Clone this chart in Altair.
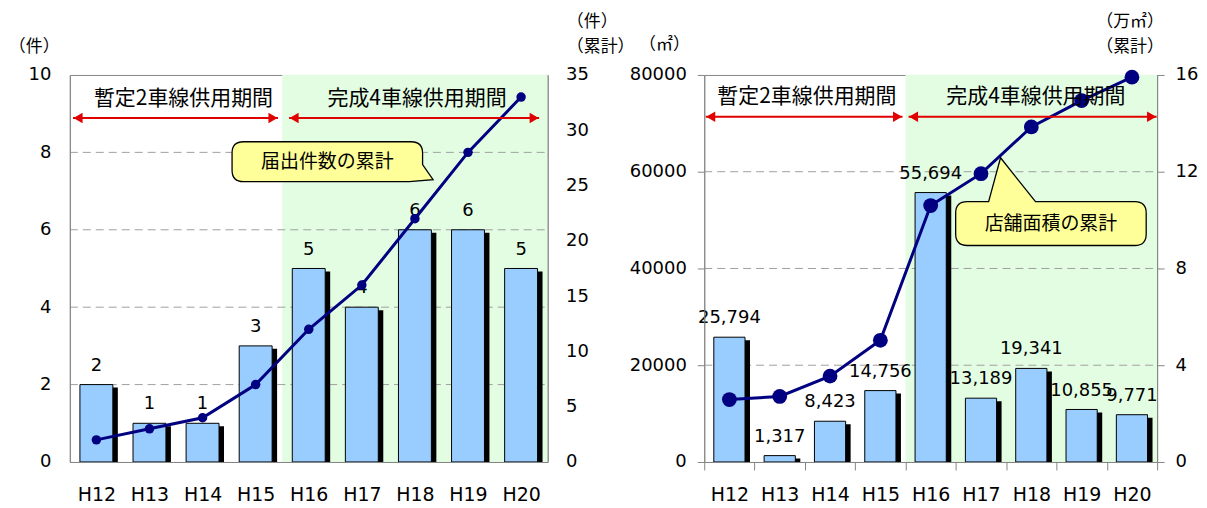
import json
import altair as alt
import pandas as pd

# ---------------- data ----------------
cats = ["H12", "H13", "H14", "H15", "H16", "H17", "H18", "H19", "H20"]
counts = [2, 1, 1, 3, 5, 4, 6, 6, 5]                 # 届出件数 (件)
counts_cum = [2, 3, 4, 7, 12, 16, 22, 28, 33]       # 累計 (件)
areas = [25794, 1317, 8423, 14756, 55694, 13189, 19341, 10855, 9771]   # 店舗面積 (㎡)
areas_cum = [2.58, 2.71, 3.55, 5.03, 10.60, 11.92, 13.85, 14.94, 15.91]  # 累計 (万㎡)

left_ticks = [0, 2, 4, 6, 8, 10]
left_cum_ticks = [0, 5, 10, 15, 20, 25, 30, 35]
left_grid = [2, 4, 6, 8]
right_ticks = [0, 20000, 40000, 60000, 80000]
right_cum_ticks = [0, 4, 8, 12, 16]
right_grid = [20000, 40000, 60000]

period_names = ["暫定2車線供用期間", "完成4車線供用期間"]
later_period = [3.5, 8.5]          # H16 .. H20 (green background)

left_period_x = [1.64, 6.04]
left_period_y = 9.38
left_arrow_start = [-0.44, 3.63]
left_arrow_end = [3.42, 8.34]
left_arrow_y = 8.89

right_period_x = [1.54, 6.09]
right_period_y = 75460
right_arrow_start = [-0.47, 3.56]
right_arrow_end = [3.44, 8.49]
right_arrow_y = 71340

left_callout = ["届出件数の累計"]
left_callout_x = [4.35]
left_callout_y = [7.76]
right_callout = ["店舗面積の累計"]
right_callout_x = [6.39]
right_callout_y = [49280]

# unit captions (placed in the data units of each chart's left axis)
left_units = ["（件）", "（件）", "（累計）"]
left_units_x = [-1.17, 8.86, 8.86]
left_units_y = [10.72, 11.37, 10.72]
left_units_align = ["center", "left", "left"]
right_units = ["（㎡）", "（万㎡）", "（累計）"]
right_units_x = [-1.29, 7.29, 7.29]
right_units_y = [86190, 90930, 85770]
right_units_align = ["center", "left", "left"]

# ---------------- styles ----------------
FONT_NUM = "DejaVu Sans"
FONT_JP = "Noto Sans CJK JP"
GRAY = "#868686"
GRID = "#a0a0a0"
GREEN = "#E3FDE3"
NAVY = "#000080"
RED = "#E00000"
BLUE = "#99CCFF"
YELLOW = "#FFFF99"
LEFT_W, RIGHT_W, H = 479, 454, 388

CALLOUT_LEFT_PATH = ("M-0.88,-0.209 L0.88,-0.209 Q1,-0.209 1,-0.089 L1,0.03 L1.11,0.19 "
                     "L0.86,0.209 L-0.88,0.209 Q-1,0.209 -1,0.089 L-1,-0.089 Q-1,-0.209 -0.88,-0.209 Z")
CALLOUT_RIGHT_PATH = ("M-0.88,-0.23 L-0.654,-0.23 L-0.529,-0.691 L-0.162,-0.23 L0.88,-0.23 "
                      "Q1,-0.23 1,-0.11 L1,0.11 Q1,0.23 0.88,0.23 L-0.88,0.23 Q-1,0.23 -1,0.11 "
                      "L-1,-0.11 Q-1,-0.23 -0.88,-0.23 Z")
CALLOUT_SIZE = 191 ** 2

xscale = alt.Scale(domain=[-0.5, len(cats) - 0.5], nice=False, zero=False)


def make_x_axis(width, tick_size, pad):
    kw = dict(ticks=False) if tick_size == 0 else dict(ticks=True, tickSize=tick_size, tickColor=GRAY)
    return alt.Axis(values=[k - 0.5 for k in range(len(cats) + 1)],
                    labelExpr=f"{json.dumps(cats)}[datum.value + 0.5] || ''",
                    labelOffset=width / len(cats) / 2, labelFlush=False, labelOverlap=False,
                    labelFont=FONT_NUM, labelFontSize=19, labelColor="black",
                    labelPadding=pad, domainColor=GRAY, grid=False, title=None, zindex=1, **kw)


def build(values, cum, w, xaxis, ydomain, yticks, yaxis_kw, ydomain2, yticks2, y2axis_kw,
          grid_vals, label_fmt, point_size, period_x, period_y, arrow_s, arrow_e, arrow_y,
          callout_text, callout_x, callout_y, callout_path, units, units_x, units_y, units_align):
    X = lambda f: alt.X(f, type="quantitative", scale=xscale, axis=xaxis)
    ys = alt.Scale(domain=ydomain, nice=False, zero=True)
    yax = alt.Axis(values=yticks, labelFont=FONT_NUM, labelFontSize=18, labelColor="black",
                   domainColor=GRAY, grid=False, zindex=1, title=None, **yaxis_kw)
    Y = lambda f: alt.Y(f, type="quantitative", scale=ys, axis=yax)
    ys2 = alt.Scale(domain=ydomain2, nice=False, zero=True)
    y2ax = alt.Axis(values=yticks2, orient="right", labelFont=FONT_NUM, labelFontSize=18,
                    labelColor="black", domainColor=GRAY, grid=False, zindex=1, title=None,
                    **y2axis_kw)
    Y2 = lambda f: alt.Y(f, type="quantitative", scale=ys2, axis=y2ax)
    Ya = lambda f: alt.Y(f, type="quantitative", scale=ys, axis=None)

    df = pd.DataFrame({"i": list(range(len(cats))), "v": values, "cum": cum})
    base = alt.Chart(df).transform_calculate(x0="datum.i - 0.31", x1="datum.i + 0.31", z="0")

    bg = alt.Chart(pd.DataFrame({"a": [later_period[0]], "b": [later_period[1]],
                                 "lo": [ydomain[0]], "hi": [ydomain[1]]})).mark_rect(
        color=GREEN).encode(x=X("a"), x2="b", y=Y("lo"), y2="hi")
    grid = alt.Chart(pd.DataFrame({"g": grid_vals, "a": xscale.domain[0], "b": xscale.domain[1]})
                     ).mark_rule(color=GRID, strokeDash=[8, 5], strokeWidth=1).encode(
        x=X("a"), x2="b", y=Y("g"))
    shadow = base.mark_bar(color="black", xOffset=5, x2Offset=5, yOffset=3).encode(
        x=X("x0"), x2="x1", y=Y("v"), y2="z:Q")
    bars = base.mark_bar(color=BLUE, stroke="black", strokeWidth=1).encode(
        x=X("x0"), x2="x1", y=Y("v"), y2="z:Q")
    labels = base.mark_text(dy=-19, font=FONT_NUM, fontSize=18, color="black",
                            baseline="middle").encode(
        x=X("i"), y=Y("v"), text=alt.Text("v:Q", format=label_fmt))
    layer_a = alt.layer(bg, grid, shadow, bars, labels)

    line = alt.Chart(df).mark_line(color=NAVY, strokeWidth=3).encode(x=X("i"), y=Y2("cum"))
    pts = alt.Chart(df).mark_circle(color=NAVY, size=point_size, opacity=1).encode(
        x=X("i"), y=Y2("cum"))
    layer_b = alt.layer(line, pts)

    pdf = pd.DataFrame({"t": period_names, "x": period_x, "y": period_y,
                        "s": arrow_s, "e": arrow_e, "ay": arrow_y})
    ptext = alt.Chart(pdf).mark_text(font=FONT_JP, fontSize=21, color="black",
                                     baseline="middle").encode(x=X("x"), y=Ya("y"), text="t")
    arrows = alt.Chart(pdf).mark_rule(color=RED, strokeWidth=2).encode(
        x=X("s"), x2="e", y=Ya("ay"))
    head_l = alt.Chart(pdf).mark_point(shape="triangle-left", filled=True, color=RED,
                                       size=110, opacity=1, xOffset=5).encode(x=X("s"), y=Ya("ay"))
    head_r = alt.Chart(pdf).mark_point(shape="triangle-right", filled=True, color=RED,
                                       size=110, opacity=1, xOffset=-5).encode(x=X("e"), y=Ya("ay"))
    cdf = pd.DataFrame({"t": callout_text, "x": callout_x, "y": callout_y})
    bubble = alt.Chart(cdf).mark_point(shape=callout_path, size=CALLOUT_SIZE, filled=True,
                                       fill=YELLOW, stroke="black", strokeWidth=1.3,
                                       opacity=1, fillOpacity=1, strokeOpacity=1).encode(
        x=X("x"), y=Ya("y"))
    btext = alt.Chart(cdf).mark_text(font=FONT_JP, fontSize=19, color="black",
                                     baseline="middle").encode(x=X("x"), y=Ya("y"), text="t")
    udf = pd.DataFrame({"t": units, "x": units_x, "y": units_y, "al": units_align})
    utext_c = alt.Chart(udf).transform_filter("datum.al == 'center'").mark_text(
        font=FONT_JP, fontSize=17, color="black", baseline="middle", align="center").encode(
        x=X("x"), y=Ya("y"), text="t")
    utext_l = alt.Chart(udf).transform_filter("datum.al == 'left'").mark_text(
        font=FONT_JP, fontSize=17, color="black", baseline="middle", align="left").encode(
        x=X("x"), y=Ya("y"), text="t")
    layer_c = alt.layer(ptext, arrows, head_l, head_r, bubble, btext, utext_c, utext_l)

    return alt.layer(layer_a, layer_b, layer_c).resolve_scale(y="independent").properties(
        width=w, height=H)


left = build(
    counts, counts_cum, LEFT_W, make_x_axis(LEFT_W, 0, 24),
    [0, 10], left_ticks, dict(ticks=False, labelPadding=19),
    [0, 35], left_cum_ticks, dict(ticks=False, labelPadding=18),
    left_grid, "d", 90, left_period_x, left_period_y, left_arrow_start, left_arrow_end,
    left_arrow_y, left_callout, left_callout_x, left_callout_y, CALLOUT_LEFT_PATH,
    left_units, left_units_x, left_units_y, left_units_align)

right = build(
    areas, areas_cum, RIGHT_W, make_x_axis(RIGHT_W, 8, 16),
    [0, 80000], right_ticks,
    dict(ticks=True, tickSize=7, tickColor=GRAY, labelPadding=11, format="d"),
    [0, 16], right_cum_ticks,
    dict(ticks=True, tickSize=7, tickColor=GRAY, labelPadding=11),
    right_grid, ",", 220, right_period_x, right_period_y, right_arrow_start, right_arrow_end,
    right_arrow_y, right_callout, right_callout_x, right_callout_y, CALLOUT_RIGHT_PATH,
    right_units, right_units_x, right_units_y, right_units_align)

chart = alt.hconcat(left, right, spacing=157, bounds="flush").configure_view(
    stroke=GRAY, strokeWidth=1
).properties(padding={"left": 0, "top": 3.5, "right": 0, "bottom": 0}, background="white")

chart.save("out.html", embed_options={"renderer": "svg", "actions": False})
